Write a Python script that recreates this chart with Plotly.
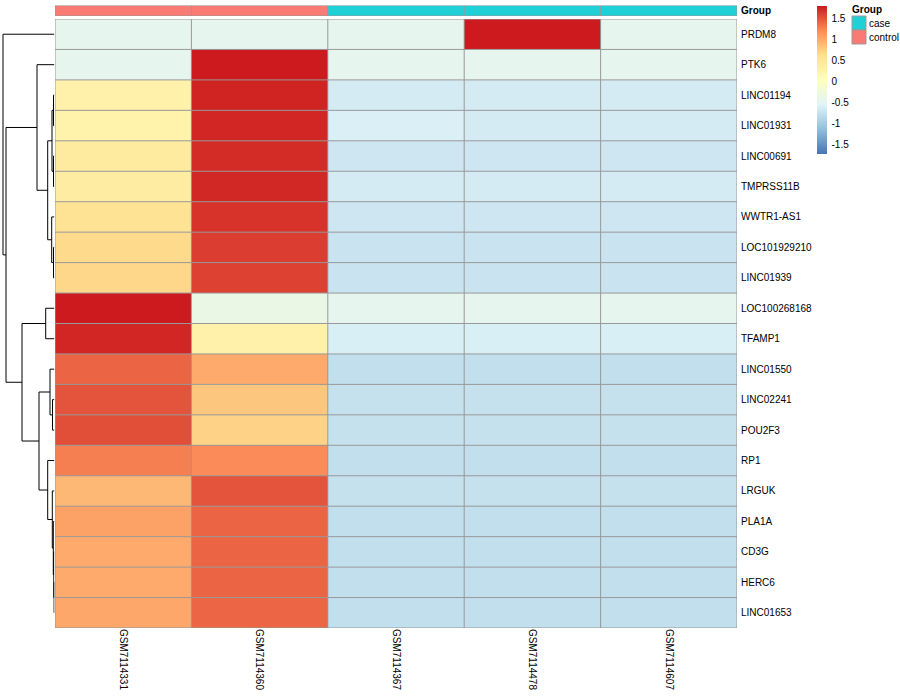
import plotly.graph_objects as go

# ---------------- data ----------------
samples = ["GSM7114331", "GSM7114360", "GSM7114367", "GSM7114478", "GSM7114607"]
groups = ["control", "control", "case", "case", "case"]
genes = ["PRDM8", "PTK6", "LINC01194", "LINC01931", "LINC00691", "TMPRSS11B",
         "WWTR1-AS1", "LOC101929210", "LINC01939", "LOC100268168", "TFAMP1",
         "LINC01550", "LINC02241", "POU2F3", "RP1", "LRGUK", "PLA1A", "CD3G",
         "HERC6", "LINC01653"]

GSM7114331 = [-0.45, -0.45, 0.30, 0.28, 0.42, 0.40, 0.56, 0.66, 0.68, 1.79,
              1.73, 1.41, 1.50, 1.52, 1.27, 0.90, 1.05, 1.00, 1.00, 1.02]
GSM7114360 = [-0.45, 1.79, 1.74, 1.73, 1.70, 1.72, 1.66, 1.61, 1.59, -0.36,
              0.30, 1.00, 0.80, 0.72, 1.21, 1.50, 1.41, 1.41, 1.41, 1.40]
GSM7114367 = [-0.45, -0.45, -0.65, -0.60, -0.70, -0.65, -0.70, -0.73, -0.73, -0.45,
              -0.61, -0.78, -0.76, -0.76, -0.78, -0.76, -0.78, -0.78, -0.78, -0.78]
GSM7114478 = [1.79, -0.45, -0.65, -0.65, -0.70, -0.65, -0.70, -0.73, -0.73, -0.45,
              -0.61, -0.78, -0.76, -0.76, -0.78, -0.76, -0.78, -0.78, -0.78, -0.78]
GSM7114607 = [-0.45, -0.45, -0.65, -0.65, -0.70, -0.65, -0.70, -0.73, -0.73, -0.45,
              -0.61, -0.78, -0.76, -0.76, -0.78, -0.76, -0.78, -0.78, -0.78, -0.78]
columns = [GSM7114331, GSM7114360, GSM7114367, GSM7114478, GSM7114607]

# row dendrogram (hclust-like merges; leaves 0..19, new nodes 20..)
merge_a = [2, 4, 20, 7, 6, 22, 1, 9, 12, 11, 18, 17, 16, 15, 14, 29, 27, 26, 0]
merge_b = [3, 5, 21, 8, 23, 24, 25, 10, 13, 28, 19, 30, 31, 32, 33, 34, 35, 36, 37]
merge_h = [0.9, 0.9, 2.4, 0.9, 2.7, 6.7, 17.4, 8.7, 1.9, 4.4, 0.3, 0.6, 1.1,
           2.1, 6.7, 15.4, 32.4, 48.4, 51.4]

# colour bar ticks
cb_ticks = [1.5, 1, 0.5, 0, -0.5, -1, -1.5]
cb_ticktext = ["1.5", "1", "0.5", "0", "-0.5", "-1", "-1.5"]

# ---------------- styling ----------------
W, H = 900, 700
FONT = "Liberation Sans, Arial, Helvetica, sans-serif"
GRID = "#999999"
group_colors = {"case": "#1FD1D6", "control": "#F97B73"}
zmin, zmax = -1.73, 1.79
stops = [(-1.73, "#4575B4"), (-1.14, "#91BFDB"), (-0.56, "#E0F3F8"),
         (0.03, "#FFFFBF"), (0.62, "#FEE090"), (1.20, "#FC8D59"), (1.79, "#CC1A1E")]
colorscale = [[(v - zmin) / (zmax - zmin), c] for v, c in stops]
colorscale[0][0] = 0.0
colorscale[-1][0] = 1.0

def px_x(p):
    return p / W

def px_y(p):
    return (H - p) / H

n_rows, n_cols = len(genes), len(samples)
z = [[columns[j][i] for j in range(n_cols)] for i in range(n_rows)]

fig = go.Figure()

fig.add_trace(go.Heatmap(
    z=z, x=list(range(n_cols)), y=list(range(n_rows)),
    colorscale=colorscale, zmin=zmin, zmax=zmax,
    xaxis="x", yaxis="y", hoverinfo="skip",
    colorbar=dict(
        x=px_x(817), xanchor="left", y=px_y(6), yanchor="top",
        lenmode="pixels", len=148, thickness=10, thicknessmode="pixels",
        outlinewidth=0, xpad=0, ypad=0,
        tickvals=cb_ticks, ticktext=cb_ticktext,
        ticks="outside", ticklen=3, tickcolor="rgba(0,0,0,0)",
        tickfont=dict(family=FONT, size=10, color="black"),
    ),
))

# annotation bar
group_codes = [[1 if g == "control" else 0 for g in groups]]
fig.add_trace(go.Heatmap(
    z=group_codes, x=list(range(n_cols)), y=[0],
    colorscale=[[0, group_colors["case"]], [0.5, group_colors["case"]],
                [0.5, group_colors["control"]], [1, group_colors["control"]]],
    zmin=0, zmax=1, showscale=False, xaxis="x", yaxis="y2", hoverinfo="skip",
))

# dendrogram
pos = {i: float(i) for i in range(n_rows)}
hgt = {i: 0.0 for i in range(n_rows)}
dx, dy = [], []
for k, (a, b, h) in enumerate(zip(merge_a, merge_b, merge_h)):
    node = n_rows + k
    dx += [hgt[a], h, h, hgt[b], None]
    dy += [pos[a], pos[a], pos[b], pos[b], None]
    pos[node] = (pos[a] + pos[b]) / 2
    hgt[node] = h
fig.add_trace(go.Scatter(x=dx, y=dy, mode="lines", xaxis="x3", yaxis="y",
                         line=dict(color="black", width=1), hoverinfo="skip",
                         showlegend=False))

# grid lines
shapes = []
for i in range(n_rows + 1):
    shapes.append(dict(type="line", xref="x", yref="y", x0=-0.5, x1=n_cols - 0.5,
                       y0=i - 0.5, y1=i - 0.5, line=dict(color=GRID, width=1)))
for j in range(n_cols + 1):
    shapes.append(dict(type="line", xref="x", yref="y", x0=j - 0.5, x1=j - 0.5,
                       y0=-0.5, y1=n_rows - 0.5, line=dict(color=GRID, width=1)))
    shapes.append(dict(type="line", xref="x", yref="y2", x0=j - 0.5, x1=j - 0.5,
                       y0=-0.5, y1=0.5, line=dict(color=GRID, width=1)))
for yy in (-0.5, 0.5):
    shapes.append(dict(type="line", xref="x", yref="y2", x0=-0.5, x1=n_cols - 0.5,
                       y0=yy, y1=yy, line=dict(color=GRID, width=1)))

# group legend
annotations = [dict(x=px_x(852), y=px_y(10), xref="paper", yref="paper",
                    text="<b>Group</b>", showarrow=False, xanchor="left",
                    yanchor="middle", xshift=-2,
                    font=dict(family=FONT, size=10, color="black"))]
for k, g in enumerate(["case", "control"]):
    top = 16 + 14 * k
    shapes.append(dict(type="rect", xref="paper", yref="paper",
                       x0=px_x(852), x1=px_x(866), y0=px_y(top + 14), y1=px_y(top),
                       fillcolor=group_colors[g], line=dict(color=GRID, width=1)))
    annotations.append(dict(x=px_x(869), y=px_y(top + 7.5), xref="paper", yref="paper",
                            text=g, showarrow=False, xanchor="left", yanchor="middle",
                            xshift=-2, font=dict(family=FONT, size=10, color="black")))

fig.update_layout(
    width=W, height=H, margin=dict(l=0, r=0, t=0, b=0),
    paper_bgcolor="white", plot_bgcolor="white", showlegend=False,
    font=dict(family=FONT, size=10, color="black"),
    xaxis=dict(domain=[px_x(55), px_x(737)], range=[-0.5, n_cols - 0.5],
               tickvals=list(range(n_cols)), ticktext=samples, tickangle=90,
               ticks="", showgrid=False, zeroline=False, showline=False,
               automargin=False, anchor="y",
               tickfont=dict(family=FONT, size=10, color="black")),
    yaxis=dict(domain=[px_y(628), px_y(19)], range=[n_rows - 0.5, -0.5],
               tickvals=list(range(n_rows)), ticktext=genes, side="right",
               ticks="", showgrid=False, zeroline=False, showline=False,
               automargin=False, anchor="x", ticklabelstandoff=3,
               tickfont=dict(family=FONT, size=10, color="black")),
    yaxis2=dict(domain=[px_y(16), px_y(5.5)], range=[-0.5, 0.5],
                tickvals=[0], ticktext=["<b>Group</b>"], side="right",
                ticks="", showgrid=False, zeroline=False, showline=False,
                automargin=False, anchor="x", ticklabelstandoff=3,
                tickfont=dict(family=FONT, size=10, color="black")),
    xaxis3=dict(domain=[px_x(2), px_x(54.4)], range=[52.4, 0], visible=False,
                anchor="y", showgrid=False, zeroline=False),
    shapes=shapes, annotations=annotations,
)

fig.write_html("out.html", config={"displayModeBar": False},
               post_script="document.body.style.margin='0';")
